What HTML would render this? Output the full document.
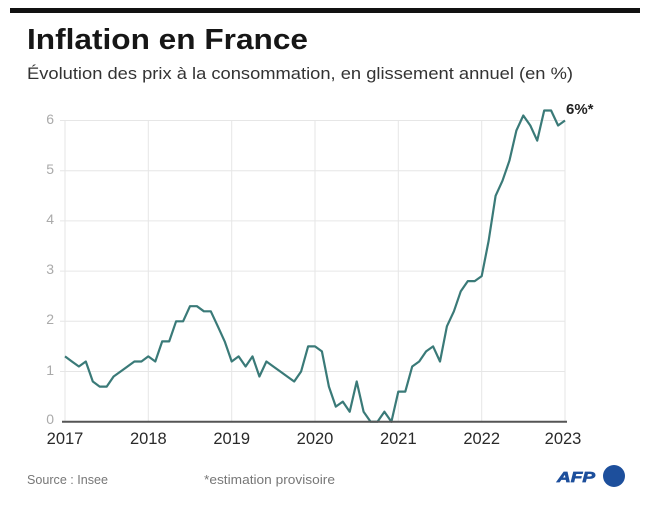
<!DOCTYPE html>
<html><head><meta charset="utf-8"><style>
html,body{margin:0;padding:0;background:#fff;}
svg{display:block;}
</style></head><body>
<svg width="655" height="513" viewBox="0 0 655 513" xmlns="http://www.w3.org/2000/svg" font-family="'Liberation Sans', sans-serif">
<rect width="655" height="513" fill="#fff"/>
<rect x="10" y="8" width="630" height="5" fill="#111"/>
<text x="27" y="49" font-size="29" font-weight="bold" fill="#161616" textLength="281" lengthAdjust="spacingAndGlyphs">Inflation en France</text>
<text x="27" y="79" font-size="17" fill="#333" textLength="546" lengthAdjust="spacingAndGlyphs">Évolution des prix à la consommation, en glissement annuel (en %)</text>
<g stroke="#e6e6e6" stroke-width="1">
<line x1="60" y1="120.5" x2="565" y2="120.5"/>
<line x1="60" y1="170.7" x2="565" y2="170.7"/>
<line x1="60" y1="220.9" x2="565" y2="220.9"/>
<line x1="60" y1="271.1" x2="565" y2="271.1"/>
<line x1="60" y1="321.3" x2="565" y2="321.3"/>
<line x1="60" y1="371.5" x2="565" y2="371.5"/>
<line x1="65" y1="120" x2="65" y2="421"/>
<line x1="148.3" y1="120" x2="148.3" y2="421"/>
<line x1="231.7" y1="120" x2="231.7" y2="421"/>
<line x1="315" y1="120" x2="315" y2="421"/>
<line x1="398.3" y1="120" x2="398.3" y2="421"/>
<line x1="481.7" y1="120" x2="481.7" y2="421"/>
<line x1="565" y1="120" x2="565" y2="421"/>
</g>
<g font-size="14" fill="#aaa" text-anchor="end">
<text x="54" y="124">6</text>
<text x="54" y="174">5</text>
<text x="54" y="224">4</text>
<text x="54" y="274">3</text>
<text x="54" y="324">2</text>
<text x="54" y="375">1</text>
<text x="54" y="424">0</text>
</g>
<polyline fill="none" stroke="#3a7a78" stroke-width="2.2" stroke-linejoin="round" points="65.0,356.4 71.9,361.5 78.9,366.5 85.8,361.5 92.8,381.5 99.7,386.6 106.7,386.6 113.6,376.5 120.6,371.5 127.5,366.5 134.4,361.5 141.4,361.5 148.3,356.4 155.3,361.5 162.2,341.4 169.2,341.4 176.1,321.3 183.1,321.3 190.0,306.2 196.9,306.2 203.9,311.3 210.8,311.3 217.8,326.3 224.7,341.4 231.7,361.5 238.6,356.4 245.6,366.5 252.5,356.4 259.4,376.5 266.4,361.5 273.3,366.5 280.3,371.5 287.2,376.5 294.2,381.5 301.1,371.5 308.1,346.4 315.0,346.4 321.9,351.4 328.9,386.6 335.8,406.6 342.8,401.6 349.7,411.7 356.7,381.5 363.6,411.7 370.6,421.7 377.5,421.7 384.4,411.7 391.4,421.7 398.3,391.6 405.3,391.6 412.2,366.5 419.2,361.5 426.1,351.4 433.1,346.4 440.0,361.5 446.9,326.3 453.9,311.3 460.8,291.2 467.8,281.1 474.7,281.1 481.7,276.1 488.6,241.0 495.6,195.8 502.5,180.7 509.4,160.7 516.4,130.5 523.3,115.5 530.3,125.5 537.2,140.6 544.2,110.5 551.1,110.5 558.1,125.5 565.0,120.5"/>
<line x1="62" y1="421.7" x2="567" y2="421.7" stroke="#555" stroke-width="2"/>
<g font-size="16.5" fill="#2a2a2a" text-anchor="middle">
<text x="65" y="444">2017</text>
<text x="148.3" y="444">2018</text>
<text x="231.7" y="444">2019</text>
<text x="315" y="444">2020</text>
<text x="398.3" y="444">2021</text>
<text x="481.7" y="444">2022</text>
<text x="563" y="444">2023</text>
</g>
<text x="566" y="114" font-size="15" font-weight="bold" fill="#222">6%*</text>
<text x="27" y="484" font-size="13" fill="#777" textLength="81" lengthAdjust="spacingAndGlyphs">Source : Insee</text>
<text x="204" y="484" font-size="13" fill="#777" textLength="131" lengthAdjust="spacingAndGlyphs">*estimation provisoire</text>
<text x="557" y="482" font-size="15" font-weight="bold" font-style="italic" fill="#1d4f9c" stroke="#1d4f9c" stroke-width="0.7" textLength="38" lengthAdjust="spacingAndGlyphs">AFP</text>
<circle cx="614" cy="476" r="11" fill="#1d4f9c"/>
</svg>
</body></html>
